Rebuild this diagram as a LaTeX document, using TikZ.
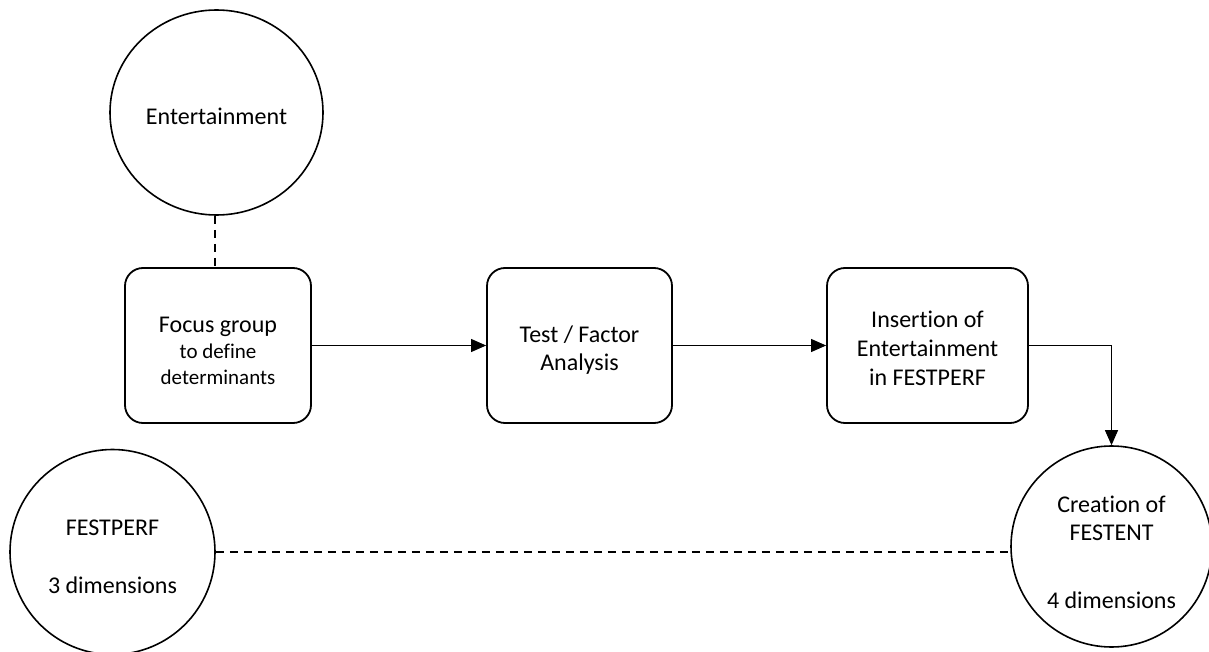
\documentclass[tikz,border=0pt]{standalone}
\usepackage{fontspec}
\setmainfont{Carlito}[Ligatures=NoCommon]
\usetikzlibrary{arrows.meta,shapes.geometric}

\newcommand{\bigtxt}{\fontsize{24}{28.5}\selectfont}
\newcommand{\smalltxt}{\fontsize{21}{26}\selectfont}

\tikzset{
  stage/.style={draw, line width=1.8pt, rounded corners=18pt, minimum height=155pt, inner sep=0pt},
  bubble/.style={draw, line width=1.6pt, circle, inner sep=0pt},
  caption/.style={align=center, inner sep=0pt, font=\bigtxt},
  flow/.style={line width=1pt, -{Triangle[length=15pt,width=13pt]}},
  link/.style={line width=1.3pt, dash pattern=on 8pt off 6pt}
}

\begin{document}
\begin{tikzpicture}[x=1pt,y=-1pt]
  \useasboundingbox (0,0) rectangle (1209,652);

  % concept at the top
  \node[draw, line width=1.6pt, ellipse, minimum width=213pt, minimum height=205pt,
        inner sep=0pt] (ent) at (216.5,112.5) {};
  \node[caption] (ent-t) at ([yshift=-4pt]ent.center) {Entertainment};

  % process steps
  \node[stage, minimum width=186pt] (focus) at (218,345.5) {};
  \node[caption, font=\fontsize{24}{26}\selectfont] (focus-t) at ([yshift=-5pt]focus.center)
    {Focus group\\\smalltxt to define\\\smalltxt determinants};

  \node[stage, minimum width=185pt] (test) at (579.5,345.5) {};
  \node[caption, font=\fontsize{24}{28}\selectfont] (test-t) at ([yshift=-5pt]test.center)
    {Test / Factor\\Analysis};

  \node[stage, minimum width=201pt] (ins) at (927.5,345.5) {};
  \node[caption, font=\fontsize{24}{29}\selectfont] (ins-t) at ([yshift=-3pt]ins.center)
    {Insertion of\\Entertainment\\in FESTPERF};

  % scales
  \node[bubble, minimum size=205pt] (festperf) at (112.5,552) {};
  \node[caption, font=\fontsize{24}{29}\selectfont] (festperf-t) at ([yshift=-5pt]festperf.center)
    {FESTPERF\\[29pt]3 dimensions};

  \node[bubble, minimum size=201pt] (festent) at (1111.5,546.5) {};
  \node[caption, font=\fontsize{24}{28}\selectfont] (festent-t) at ([yshift=-6pt]festent.center)
    {Creation of\\FESTENT\\[40pt]4 dimensions};

  % connectors
  \draw[link] (ent.south -| 215,0) -- (focus.north -| 215,0);
  \draw[flow] (focus.east) -- (test.west);
  \draw[flow] (test.east) -- (ins.west);
  \draw[flow] (ins.east) -| (festent.north);
  \draw[link] (festperf.east) -- (festent.west |- festperf.east);
\end{tikzpicture}
\end{document}
